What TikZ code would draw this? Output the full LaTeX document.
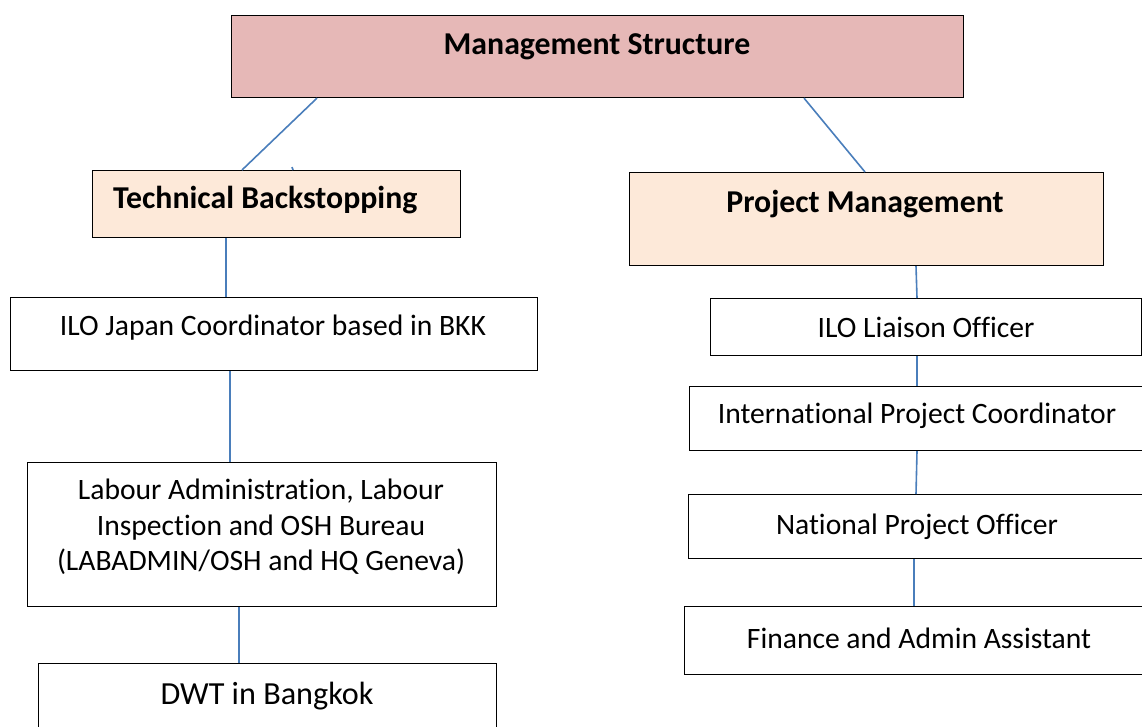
\documentclass[tikz,border=0pt]{standalone}
\usepackage{fontspec}
\setmainfont{Carlito}[Ligatures=NoCommon]
\usetikzlibrary{calc}
\definecolor{headpink}{HTML}{E6B8B7}
\definecolor{peach}{HTML}{FDE9D9}
\definecolor{linkblue}{HTML}{4A7EBB}
\begin{document}
\begin{tikzpicture}[x=1pt,y=-1pt,
  box/.style={draw=black,line width=1.1pt,anchor=north west,inner sep=0pt},
  lbl/.style={font=\fontsize{29.6}{35.5}\selectfont,align=center,inner sep=0pt},
  hdr/.style={font=\fontsize{31.8}{35}\selectfont\bfseries,inner sep=0pt},
  link/.style={draw=linkblue,line width=1.6pt}]
\useasboundingbox (0,0) rectangle (1142,726);

% top box
\node[box,fill=headpink,minimum width=732,minimum height=82] (ms) at (231,15) {};
\node[hdr] (mst) at (597,47) {Management Structure};

% second level
\node[box,fill=peach,minimum width=368,minimum height=67] (tb) at (92,170) {};
\node[hdr,anchor=west] (tbt) at (113,200) {Technical Backstopping};
\node[box,fill=peach,minimum width=474,minimum height=93] (pm) at (629,172) {};
\node[hdr] (pmt) at (865,204) {Project Management};

% left column
\node[box,minimum width=527,minimum height=73] (jc) at (10,297) {};
\node[lbl] (jct) at (273,328) {ILO Japan Coordinator based in BKK};
\node[box,minimum width=469,minimum height=144] (la) at (27,462) {};
\node[lbl] (lat) at (261,527) {Labour Administration, Labour\\Inspection and OSH Bureau\\(LABADMIN/OSH and HQ Geneva)};
\node[box,minimum width=458,minimum height=80] (dwt) at (38,663) {};
\node[lbl,font=\fontsize{32.2}{38}\selectfont] (dwtt) at (267,696) {DWT in Bangkok};

% right column
\node[box,minimum width=431,minimum height=57] (lo) at (710,298) {};
\node[lbl] (lot) at (926,327) {ILO Liaison Officer};
\node[box,minimum width=460,minimum height=64] (ipc) at (689,386) {};
\node[lbl] (ipct) at (917,416) {International Project Coordinator};
\node[box,minimum width=460,minimum height=64] (npo) at (688,494) {};
\node[lbl] (npot) at (917,527) {National Project Officer};
\node[box,minimum width=465,minimum height=68] (fa) at (684,606) {};
\node[lbl] (fat) at (919,638) {Finance and Admin Assistant};

% connectors
\draw[link] ($(ms.south west)+(86,0)$) -- ($(tb.north west)+(150,0)$);
\draw[link] ($(tb.north west)+(200,-3)$) -- ($(tb.north west)+(201,0)$);
\draw[link] ($(ms.south west)+(573,0)$) -- ($(pm.north west)+(236,0)$);
\draw[link] ($(tb.south west)+(134,0)$) -- ($(jc.north west)+(216,0)$);
\draw[link] ($(jc.south west)+(220,0)$) -- ($(la.north west)+(203,0)$);
\draw[link] ($(la.south west)+(212,0)$) -- ($(dwt.north west)+(201,0)$);
\draw[link] ($(pm.south west)+(287,0)$) -- ($(lo.north west)+(207,0)$);
\draw[link] ($(lo.south west)+(207,0)$) -- ($(ipc.north west)+(228,0)$);
\draw[link] ($(ipc.south west)+(228,0)$) -- ($(npo.north west)+(228,0)$);
\draw[link] ($(npo.south west)+(226,0)$) -- ($(fa.north west)+(230,0)$);
\end{tikzpicture}
\end{document}
